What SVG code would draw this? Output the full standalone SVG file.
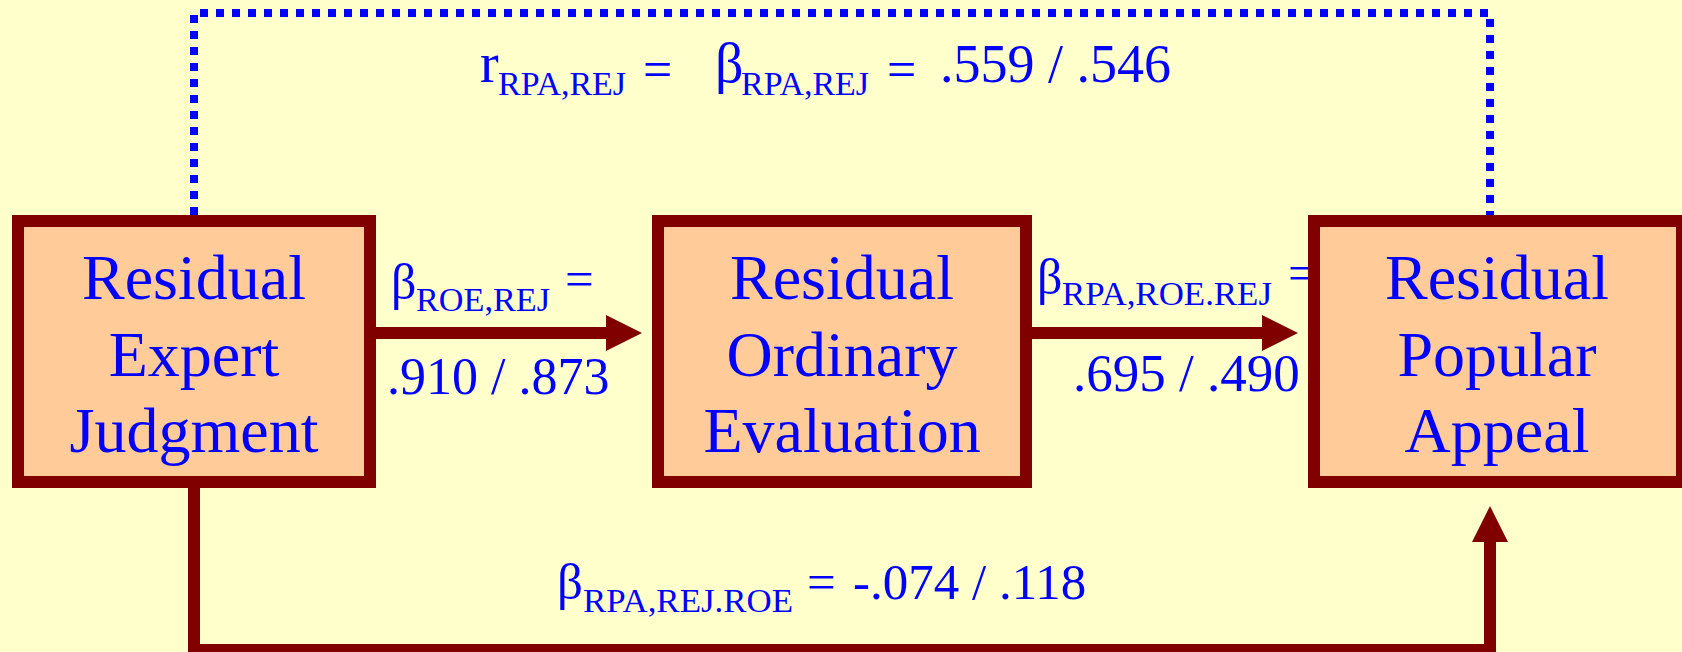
<svg xmlns="http://www.w3.org/2000/svg" width="1682" height="652" viewBox="0 0 1682 652">
<style>
.box{fill:#FFCC99;stroke:#800000;stroke-width:12}
.t{font-family:"Liberation Serif","Times New Roman",serif;fill:#0000FF}
.nl{font-size:64px;text-anchor:middle}
.conn{fill:none;stroke:#800000;stroke-width:12}
.head{fill:#800000}
.dot{fill:none;stroke:#0000FF;stroke-width:8;stroke-dasharray:8 8}
</style>
<rect width="1682" height="652" fill="#FFFFCC"/>
<g id="connectors">
<path class="dot" d="M194,215 V13 H1490 V215"/>
<line class="conn" x1="370" y1="333" x2="607" y2="333"/>
<polygon class="head" points="606,315 642,333 606,351"/>
<line class="conn" x1="1026" y1="333" x2="1263" y2="333"/>
<polygon class="head" points="1262,315 1298,333 1262,351"/>
<path class="conn" d="M194,488 V650 H1490 V540"/>
<polygon class="head" points="1472,542 1490,506 1508,542"/>
</g>
<g id="labels" class="t">
<text x="480" y="82" font-size="56">r</text>
<text x="498" y="95" font-size="33" textLength="128" lengthAdjust="spacingAndGlyphs">RPA,REJ</text>
<text x="643" y="87" font-size="52">=</text>
<text x="715" y="82" font-size="56">β</text>
<text x="741" y="95" font-size="33" textLength="128" lengthAdjust="spacingAndGlyphs">RPA,REJ</text>
<text x="887" y="87" font-size="52">=</text>
<text x="940" y="82" font-size="54">.559 / .546</text>

<text x="391" y="299" font-size="50">β</text>
<text x="416" y="311" font-size="34" textLength="134" lengthAdjust="spacingAndGlyphs">ROE,REJ</text>
<text x="565" y="296" font-size="51">=</text>
<text x="387" y="394" font-size="52">.910 / .873</text>

<text x="1037" y="294" font-size="50">β</text>
<text x="1062" y="305" font-size="34" textLength="210" lengthAdjust="spacingAndGlyphs">RPA,ROE.REJ</text>
<text x="1288" y="290" font-size="51">=</text>
<text x="1073" y="391" font-size="53">.695 / .490</text>

<text x="557" y="599" font-size="51">β</text>
<text x="583" y="612" font-size="34" textLength="210" lengthAdjust="spacingAndGlyphs">RPA,REJ.ROE</text>
<text x="807" y="599" font-size="51">=</text>
<text x="853" y="599" font-size="51">-.074 / .118</text>
</g>
<g id="node-expert">
<rect class="box" x="18" y="221" width="352" height="261"/>
<text class="t nl" x="194"><tspan x="194" y="299">Residual</tspan><tspan x="194" y="376">Expert</tspan><tspan x="194" y="452">Judgment</tspan></text>
</g>
<g id="node-ordinary">
<rect class="box" x="658" y="221" width="368" height="261"/>
<text class="t nl" x="842"><tspan x="842" y="299">Residual</tspan><tspan x="842" y="376">Ordinary</tspan><tspan x="842" y="452">Evaluation</tspan></text>
</g>
<g id="node-popular">
<rect class="box" x="1314" y="221" width="368" height="261"/>
<text class="t nl" x="1497"><tspan x="1497" y="299">Residual</tspan><tspan x="1497" y="376">Popular</tspan><tspan x="1497" y="452">Appeal</tspan></text>
</g>
</svg>
